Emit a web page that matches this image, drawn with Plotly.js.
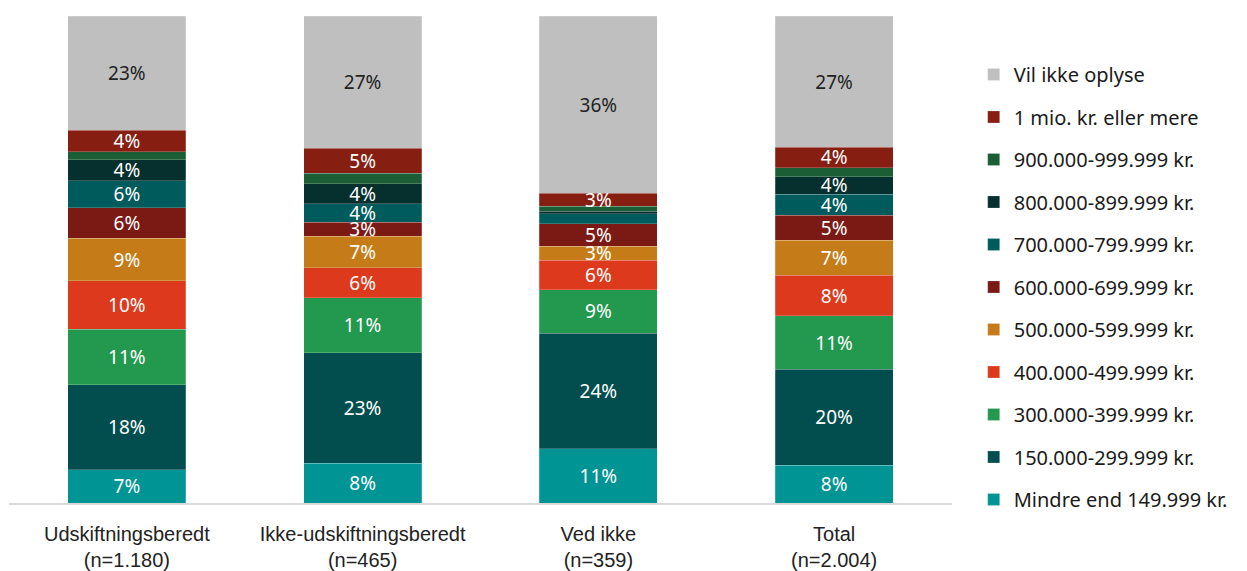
<!DOCTYPE html>
<html>
<head>
<meta charset="utf-8">
<script src="https://cdn.plot.ly/plotly-3.0.1.min.js"></script>
<style>html,body{margin:0;padding:0;background:#fff;}#chart{width:1247px;height:571px;}</style>
</head>
<body>
<div id="chart"></div>
<script>
const categories = ["Udskiftningsberedt<br>(n=1.180)", "Ikke-udskiftningsberedt<br>(n=465)", "Ved ikke<br>(n=359)", "Total<br>(n=2.004)"];

// Series, bottom of stack first
const seriesNames = [
  "Mindre end 149.999 kr.",
  "150.000-299.999 kr.",
  "300.000-399.999 kr.",
  "400.000-499.999 kr.",
  "500.000-599.999 kr.",
  "600.000-699.999 kr.",
  "700.000-799.999 kr.",
  "800.000-899.999 kr.",
  "900.000-999.999 kr.",
  "1 mio. kr. eller mere",
  "Vil ikke oplyse"
];

const mindre   = [6.8, 8.2, 11.1, 7.8];
const k150     = [17.5, 22.7, 23.8, 19.7];
const k300     = [11.4, 11.2, 8.9, 10.9];
const k400     = [9.9, 6.2, 6.0, 8.4];
const k500     = [8.8, 6.5, 2.9, 7.2];
const k600     = [6.2, 2.9, 4.6, 5.1];
const k700     = [5.6, 3.8, 2.1, 4.3];
const k800     = [4.3, 4.1, 0.5, 3.6];
const k900     = [1.6, 2.1, 1.0, 1.85];
const mio1     = [4.4, 5.1, 2.75, 4.25];
const vilIkke  = [23.4, 27.2, 36.35, 26.8];

const seriesValues = [mindre, k150, k300, k400, k500, k600, k700, k800, k900, mio1, vilIkke];

const colors = ["#009494", "#024E4E", "#23994F", "#DD391D", "#C57C18", "#7B1914", "#005B5C", "#06302E", "#1B5E35", "#861F11", "#BFBFBF"];
const textColors = ["#fff","#fff","#fff","#fff","#fff","#fff","#fff","#fff","#fff","#fff","#222"];

const traces = seriesNames.map((name, i) => ({
  type: "bar",
  name: name,
  x: categories,
  y: seriesValues[i],
  legendgroup: "g" + i,
  legendrank: 100 - i,
  marker: { color: colors[i], line: { color: "rgba(255,255,255,0.35)", width: 0.6 } },
  text: seriesValues[i].map(v => v >= 2.5 ? Math.round(v) + "%" : ""),
  textposition: "inside",
  insidetextanchor: "middle",
  textangle: 0,
  constraintext: "none",
  cliponaxis: false,
  textfont: { family: "Noto Sans", size: 19, color: textColors[i] },
  hoverinfo: "name+y"
}));

const layout = {
  width: 1247,
  height: 571,
  barmode: "stack",
  bargap: 0.5,
  margin: { l: 9, r: 295, t: 16, b: 68 },
  paper_bgcolor: "#fff",
  plot_bgcolor: "#fff",
  showlegend: true,
  legend: {
    traceorder: "grouped",
    x: 1.023,
    xanchor: "left",
    y: 0.92,
    yanchor: "top",
    font: { family: "Noto Sans", size: 20, color: "#1a1a1a" },
    tracegroupgap: 13.5,
    itemwidth: 30
  },
  xaxis: {
    showgrid: false,
    showline: true,
    linecolor: "#D9D9D9",
    linewidth: 2,
    ticks: "",
    ticklabelstandoff: 12,
    tickfont: { family: "Liberation Sans Narrow, Liberation Sans, Arial", size: 20, color: "#222" },
    fixedrange: true
  },
  yaxis: {
    range: [0, 100],
    showgrid: false,
    showticklabels: false,
    zeroline: false,
    showline: false,
    ticks: "",
    fixedrange: true
  },
  uniformtext: { mode: false }
};

Plotly.newPlot("chart", traces, layout, { displayModeBar: false, staticPlot: true });
</script>
</body>
</html>
